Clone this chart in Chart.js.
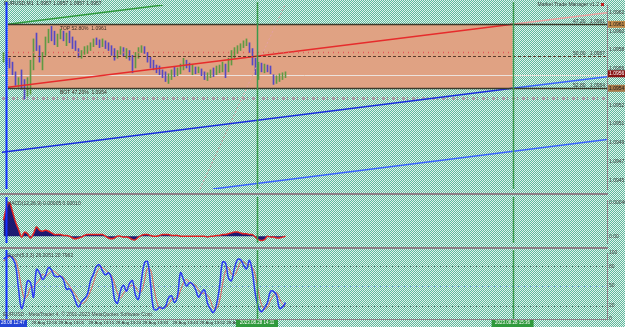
<!DOCTYPE html>
<html>
<head>
<meta charset="utf-8">
<script src="https://cdn.jsdelivr.net/npm/chart.js@4.4.0/dist/chart.umd.min.js"></script>
<style>
  html, body { margin: 0; padding: 0; }
  body {
    width: 625px; height: 327px; overflow: hidden; position: relative;
    background: repeating-conic-gradient(#5fb89c 0 25%, #e4f4ee 0 50%) 0 0 / 2px 2px;
  }
  canvas { position: absolute; left: 0; }
  .sep { position: absolute; left: 0; width: 608px; height: 2px; background: #8e7f87; }
</style>
</head>
<body>
<canvas id="mainChart" width="625" height="194" style="top:0"></canvas>
<canvas id="macdChart" width="625" height="53" style="top:195px"></canvas>
<canvas id="stochChart" width="625" height="79" style="top:248px"></canvas>
<div class="sep" style="top:193px"></div>
<div class="sep" style="top:247px"></div>
<div class="sep" style="top:319px;height:1px"></div>
<script>
const FONT = '"Liberation Sans", Arial, sans-serif';

// ---- price bars (M1), one per index ----
const barHigh = [1.09579, 1.09576, 1.09573, 1.09569, 1.09559, 1.09553, 1.09561, 1.09551, 1.09553, 1.09571,
  1.09593, 1.09599, 1.09586, 1.09579, 1.09595, 1.09603, 1.09606, 1.09601, 1.09598, 1.09603,
  1.09601, 1.09599, 1.09601, 1.09595, 1.09591, 1.09583, 1.09581, 1.09585, 1.09586, 1.09589,
  1.09593, 1.09594, 1.09592, 1.09593, 1.09591, 1.09589, 1.09586, 1.09583, 1.09581, 1.09585,
  1.09584, 1.09583, 1.09581, 1.09576, 1.09579, 1.09584, 1.09586, 1.09585, 1.09579, 1.09574,
  1.09571, 1.09566, 1.09565, 1.09561, 1.09559, 1.09557, 1.09561, 1.09564, 1.09563, 1.09567,
  1.09573, 1.09571, 1.09568, 1.09566, 1.09564, 1.09564, 1.09562, 1.09559, 1.09558, 1.09561,
  1.09563, 1.09565, 1.09566, 1.09569, 1.09567, 1.09573, 1.09581, 1.09584, 1.09586, 1.09588,
  1.09591, 1.09593, 1.09589, 1.09583, 1.09573, 1.09569, 1.09568, 1.09567, 1.09566, 1.09565,
  1.09556, 1.09555, 1.09557, 1.09558, 1.09559];
const barLow = [1.09569, 1.09566, 1.09563, 1.09556, 1.09545, 1.09543, 1.09541, 1.09531, 1.09534, 1.09536,
  1.09561, 1.09581, 1.09569, 1.09561, 1.09576, 1.09589, 1.09591, 1.09587, 1.09585, 1.09593,
  1.09591, 1.09586, 1.09589, 1.09583, 1.09581, 1.09574, 1.09573, 1.09577, 1.09578, 1.09581,
  1.09585, 1.09587, 1.09584, 1.09585, 1.09583, 1.09581, 1.09576, 1.09571, 1.09573, 1.09577,
  1.09575, 1.09573, 1.09571, 1.09558, 1.09563, 1.09573, 1.09579, 1.09578, 1.09569, 1.09563,
  1.09561, 1.09558, 1.09556, 1.09553, 1.09549, 1.09547, 1.09551, 1.09554, 1.09555, 1.09557,
  1.09561, 1.09563, 1.09559, 1.09556, 1.09557, 1.09558, 1.09555, 1.09551, 1.09550, 1.09553,
  1.09554, 1.09556, 1.09558, 1.09559, 1.09553, 1.09559, 1.09566, 1.09573, 1.09578, 1.09581,
  1.09584, 1.09586, 1.09579, 1.09566, 1.09556, 1.09551, 1.09559, 1.09558, 1.09559, 1.09557,
  1.09546, 1.09547, 1.09549, 1.09551, 1.09553];
const barClose = [1.09573, 1.09571, 1.09566, 1.09559, 1.09547, 1.09549, 1.09543, 1.09536, 1.09549, 1.09566,
  1.09589, 1.09586, 1.09571, 1.09576, 1.09591, 1.09599, 1.09596, 1.09591, 1.09595, 1.09599,
  1.09593, 1.09597, 1.09591, 1.09586, 1.09583, 1.09576, 1.09579, 1.09581, 1.09584, 1.09587,
  1.09591, 1.09589, 1.09586, 1.09591, 1.09585, 1.09584, 1.09579, 1.09575, 1.09579, 1.09581,
  1.09577, 1.09579, 1.09573, 1.09561, 1.09576, 1.09581, 1.09583, 1.09580, 1.09571, 1.09567,
  1.09563, 1.09561, 1.09558, 1.09555, 1.09551, 1.09553, 1.09559, 1.09557, 1.09561, 1.09565,
  1.09569, 1.09565, 1.09561, 1.09561, 1.09559, 1.09561, 1.09557, 1.09553, 1.09555, 1.09559,
  1.09557, 1.09561, 1.09563, 1.09565, 1.09557, 1.09571, 1.09579, 1.09581, 1.09584, 1.09586,
  1.09588, 1.09591, 1.09581, 1.09569, 1.09559, 1.09565, 1.09561, 1.09564, 1.09561, 1.09558,
  1.09551, 1.09553, 1.09555, 1.09556, 1.09557];

// ---- MACD histogram ----
const macdValues = [0.00019, 0.00034, 0.00040, 0.00029, 0.00017, 0.00008, -0.00001, 0.00005, 0.00003, -0.00002,
  0.00003, 0.00011, 0.00007, 0.00006, 0.00007, 0.00006, 0.00004, 0.00002, 0.00002, 0.00002,
  0.00001, 0.00001, 0, -0.00002, -0.00003, -0.00002, -0.00001, 0.00001, 0.00002, 0.00002,
  0.00002, 0.00002, 0.00002, 0.00002, 0, -0.00002, -0.00003, -0.00002, 0, 0,
  -0.00001, -0.00001, -0.00002, -0.00004, -0.00004, -0.00001, 0.00001, 0.00002, 0.00002, 0.00001,
  0, 0, 0.00001, 0.00002, 0.00002, 0.00002, 0.00001, 0.00001, 0.00001, 0,
  0, 0, 0, 0, 0, 0, 0, 0, -0.00001, 0,
  0, 0.00001, 0.00001, 0.00002, 0.00002, 0.00003, 0.00004, 0.00005, 0.00005, 0.00004,
  0.00003, 0.00003, 0.00002, 0.00002, -0.00001, -0.00004, -0.00005, -0.00004, 0, -0.00001,
  -0.00001, -0.00002, -0.00002, -0.00001, 0];

// ---- Stochastic ----
const stochMain = [91, 94, 96, 92, 82, 46, 16, 30, 58, 55, 33, 75, 70, 60, 66, 78, 74, 65, 64, 65,
  59, 45, 46, 39, 27, 18, 26, 31, 38, 58, 68, 80, 82, 73, 67, 70, 62, 30, 24, 43,
  51, 42, 54, 58, 36, 30, 60, 85, 87, 54, 16, 14, 18, 16, 19, 32, 35, 25, 35, 70,
  60, 50, 55, 53, 45, 33, 40, 44, 24, 15, 10, 22, 48, 86, 85, 62, 58, 77, 90, 90,
  82, 76, 89, 70, 36, 18, 11, 17, 25, 42, 42, 36, 16, 18, 25];
const stochSignal = [88, 91, 94, 94, 90, 73, 48, 31, 35, 48, 49, 54, 59, 68, 65, 68, 73, 72, 68, 65,
  63, 56, 50, 43, 37, 28, 24, 25, 32, 42, 55, 69, 77, 78, 74, 70, 66, 54, 39, 32,
  39, 45, 49, 51, 49, 41, 42, 58, 77, 75, 52, 28, 16, 16, 18, 22, 29, 31, 32, 43,
  55, 60, 55, 53, 51, 44, 39, 39, 36, 28, 16, 16, 27, 52, 73, 78, 68, 66, 75, 86,
  87, 83, 82, 78, 65, 41, 22, 15, 18, 28, 36, 40, 31, 23, 20];
const stochLevels = [80, 50, 20];

// ---- axis ticks / labels ----
const priceTicks = [1.0962, 1.09601, 1.09582, 1.09562, 1.09524, 1.09505, 1.09486, 1.09466, 1.09447];
const macdTicks = [0.0004, 0];
const stochTicks = [100, 80, 50, 20, 0];
const timeTicks = [9, 18, 28, 37, 46, 56, 65, 74];
const timeLabels = ['28 Aug 12:56', '28 Aug 13:05', '28 Aug 13:15', '28 Aug 13:24',
  '28 Aug 13:33', '28 Aug 13:43', '28 Aug 13:52', '28 Aug 14:01'];

// ---- chart objects (x in bar units, y in price) ----
const xMin = -0.5, xMax = 201.17;
const rectStart = 1.5, rectEnd = 169.7;
const rectTop = 1.09608, rectBottom = 1.09542;
const midLevel = 1.09575, fibDotLevel = 1.09579, bidLevel = 1.09556, dateRowLevel = 1.09532;
const greenLines = [84.5, 169.7];
const greenLineLabels = ['2023.08.28 14:11', '2023.08.28 15:36'];
const blueLine = 0.8;
const redTrendX = [1.5, 169.7], redTrendY = [1.09543, 1.09608];
const redExtX = [169.7, 201.17], redExtY = [1.09608, 1.09620];
const blueAX = [-0.5, 169.7], blueAY = [1.09476, 1.09542];
const blueExtX = [169.7, 201.17], blueExtY = [1.09542, 1.09554];
const blueBX = [69.8, 201.17], blueBY = [1.09438, 1.09489];
const greenTrendX = [1.5, 53.2], greenTrendY = [1.09608, 1.09628];
const pinkX = [65.5, 93.8], pinkY = [1.09438, 1.09628];

const toPts = (xs, ys) => xs.map((x, i) => ({ x, y: ys[i] }));

function seg(xs, ys, color, width, dash) {
  return {
    type: 'line', data: toPts(xs, ys), borderColor: color, borderWidth: width,
    borderDash: dash || [], pointRadius: 0, fill: false, order: 1
  };
}

function rightAxis(min, max, ticks, fmt) {
  return {
    position: 'right', min, max,
    afterFit: s => { s.width = 18; },
    afterBuildTicks: s => { s.ticks = ticks.map(v => ({ value: v })); },
    ticks: { font: { size: 5, family: FONT }, color: '#3c3c3c', padding: 2, autoSkip: false, callback: fmt },
    grid: { display: false, drawTicks: false },
    border: { color: '#8e7f87', width: 1 }
  };
}

const xAxis = { type: 'linear', min: xMin, max: xMax, offset: false, display: false };

function text(ctx, s, x, y, color, align, size) {
  ctx.font = (size || 5) + 'px ' + FONT;
  ctx.fillStyle = color;
  ctx.textAlign = align || 'left';
  ctx.textBaseline = 'middle';
  ctx.fillText(s, x, y);
}

function hline(ctx, y, x1, x2, color, width, dash) {
  ctx.save();
  ctx.strokeStyle = color; ctx.lineWidth = width; ctx.setLineDash(dash || []);
  ctx.beginPath(); ctx.moveTo(x1, y); ctx.lineTo(x2, y); ctx.stroke();
  ctx.restore();
}

// vertical time lines, shared by all three panes
const vlines = {
  id: 'vlines',
  afterDatasetsDraw(chart) {
    const { ctx, chartArea: a, scales: { x } } = chart;
    ctx.save();
    greenLines.forEach(v => {
      const px = Math.round(x.getPixelForValue(v)) + 0.5;
      ctx.strokeStyle = '#3a9a4c'; ctx.lineWidth = 1.5;
      ctx.beginPath(); ctx.moveTo(px, a.top - 3); ctx.lineTo(px, a.bottom); ctx.stroke();
    });
    const bx = Math.round(x.getPixelForValue(blueLine)) + 0.5;
    ctx.strokeStyle = '#1530ff'; ctx.lineWidth = 2;
    ctx.beginPath(); ctx.moveTo(bx, a.top - 3); ctx.lineTo(bx, a.bottom); ctx.stroke();
    ctx.restore();
  }
};

const mainExtras = {
  id: 'mainExtras',
  beforeDatasetsDraw(chart) {
    const { ctx, chartArea: a, scales: { x, y } } = chart;
    const x1 = x.getPixelForValue(rectStart), x2 = x.getPixelForValue(rectEnd);
    const y1 = y.getPixelForValue(rectTop), y2 = y.getPixelForValue(rectBottom);
    ctx.fillStyle = '#e0a283';
    ctx.fillRect(x1, y1, x2 - x1, y2 - y1);
    hline(ctx, Math.round(y.getPixelForValue(bidLevel)) + 0.5, a.left, a.right, '#ece2dc', 1);
    hline(ctx, Math.round(y.getPixelForValue(dateRowLevel)) + 0.5, a.left, a.right, '#a89aa4', 3, [3, 2, 1, 4]);
  },
  afterDatasetsDraw(chart) {
    const { ctx, chartArea: a, scales: { x, y } } = chart;
    const x1 = x.getPixelForValue(rectStart), x2 = x.getPixelForValue(rectEnd);
    const yT = Math.round(y.getPixelForValue(rectTop)) + 0.5;
    const yB = Math.round(y.getPixelForValue(rectBottom)) + 0.5;
    const yM = Math.round(y.getPixelForValue(midLevel)) + 0.5;
    const yF = Math.round(y.getPixelForValue(fibDotLevel)) + 0.5;
    hline(ctx, yF, x1, x2, '#e25a5a', 1.5, [1, 4]);
    hline(ctx, yM, x1, a.right, '#5a3a2a', 1, [3, 2]);
    hline(ctx, yT, x1, a.right, '#3b3a2a', 1.5);
    hline(ctx, yB, x1, a.right, '#3b3a2a', 1.5);

    text(ctx, 'TOP 52.80%  1.0961', x1 + 52, yT + 4, '#3a2a20');
    text(ctx, 'BOT 47.20%  1.0954', x1 + 52, yB + 4, '#3a2a20');
    text(ctx, '47.20   1.0961', a.right - 2, yT - 3, '#3a3a3a', 'right');
    text(ctx, '50.00   1.0957', a.right - 2, yM - 3, '#3a3a3a', 'right');
    text(ctx, '52.80   1.0954', a.right - 2, yB - 3, '#3a3a3a', 'right');
    text(ctx, 'EURUSD,M1  1.0957 1.0957 1.0957 1.0957', a.left + 2, 4, '#2a2a2a');
    text(ctx, 'Market Trade Manager v1.2', a.right - 8, 5, '#3a3a3a', 'right');
    ctx.fillStyle = '#c02020';
    ctx.fillRect(a.right - 6, 3, 3, 3);

    // boxed prices on the axis
    const boxes = [[rectTop, '1.0961', '#c08a4a', '#1a1a1a'], [barClose[barClose.length - 1], '1.0956', '#8a1414', '#ffffff'],
      [rectBottom, '1.0954', '#a77a4a', '#1a1a1a']];
    boxes.forEach(([v, s, bg, fg]) => {
      const py = y.getPixelForValue(v);
      ctx.fillStyle = bg;
      ctx.fillRect(a.right + 1, py - 3.5, 17, 7);
      text(ctx, s, a.right + 2, py, fg);
    });
  }
};

const priceUp = barClose.map((c, i) => i === 0 || c >= barClose[i - 1]);

new Chart(document.getElementById('mainChart'), {
  type: 'bar',
  data: {
    datasets: [
      {
        data: barHigh.map((h, i) => ({ x: i, y: [barLow[i], h] })),
        backgroundColor: priceUp.map(u => u ? '#5f9a44' : '#5548c4'),
        borderWidth: 0, barThickness: 1, order: 2
      },
      seg(redTrendX, redTrendY, '#e62c2c', 1.5),
      seg(redExtX, redExtY, '#eea0a0', 1.5),
      seg(blueAX, blueAY, '#1a2ede', 1.5),
      seg(blueExtX, blueExtY, '#3b64ff', 1.5),
      seg(blueBX, blueBY, '#3b64ff', 1.5),
      seg(greenTrendX, greenTrendY, '#2f9a3c', 1.5),
      seg(pinkX, pinkY, '#e4a0a4', 1, [2, 2])
    ]
  },
  options: {
    responsive: false, animation: false, events: [],
    layout: { padding: { left: 2, right: 0, top: 3, bottom: 1 } },
    plugins: { legend: { display: false }, tooltip: { enabled: false } },
    scales: {
      x: xAxis,
      y: rightAxis(1.09438, 1.09628, priceTicks, v => v.toFixed(4))
    }
  },
  plugins: [mainExtras, vlines]
});

new Chart(document.getElementById('macdChart'), {
  type: 'line',
  data: {
    datasets: [{
      data: macdValues.map((v, i) => ({ x: i, y: v })),
      borderColor: '#e02424', borderWidth: 1.5, backgroundColor: '#1d1a72',
      fill: 'origin', pointRadius: 0, tension: 0.3
    }]
  },
  options: {
    responsive: false, animation: false, events: [],
    layout: { padding: { left: 2, right: 0, top: 1, bottom: 1 } },
    plugins: { legend: { display: false }, tooltip: { enabled: false } },
    scales: {
      x: xAxis,
      y: rightAxis(-0.00008, 0.00043, macdTicks, v => v === 0 ? '0.00' : v.toFixed(5))
    }
  },
  plugins: [vlines, {
    id: 'macdTitle',
    afterDraw(chart) {
      const a = chart.chartArea;
      text(chart.ctx, 'MACD(12,26,9) 0.00005 0.00010', a.left + 5, a.top + 4, '#3a3a3a');
    }
  }]
});

new Chart(document.getElementById('stochChart'), {
  type: 'line',
  data: {
    datasets: [
      {
        data: stochMain.map((v, i) => ({ x: i, y: v })),
        borderColor: '#2b3cf2', borderWidth: 1.5, pointRadius: 0, tension: 0.4
      },
      {
        data: stochSignal.map((v, i) => ({ x: i, y: v })),
        borderColor: '#e06060', borderWidth: 1, pointRadius: 0, tension: 0.4
      }
    ]
  },
  options: {
    responsive: false, animation: false, events: [],
    layout: { padding: { left: 2, right: 0, top: 1, bottom: 8 } },
    plugins: { legend: { display: false }, tooltip: { enabled: false } },
    scales: {
      x: xAxis,
      y: rightAxis(0, 100, stochTicks, v => String(v))
    }
  },
  plugins: [{
    id: 'stochExtras',
    beforeDatasetsDraw(chart) {
      const { ctx, chartArea: a, scales: { y } } = chart;
      stochLevels.forEach(l => {
        hline(ctx, Math.round(y.getPixelForValue(l)) + 0.5, a.left, a.right,
          l === 50 ? '#7aa4ea' : '#55706a', 1, [1, 2]);
      });
    },
    afterDraw(chart) {
      const { ctx, chartArea: a, scales: { x } } = chart;
      text(ctx, 'Stoch(5,3,3) 26.2051 20.7962', a.left + 5, a.top + 3, '#3a3a3a');
      text(ctx, 'EURUSD - MetaTrader 4, \u00a9 2001-2023 MetaQuotes Software Corp.', a.left + 1, a.bottom - 4, '#4a4a4a');
      const ty = a.bottom + 4;
      ctx.fillStyle = '#2244d6';
      ctx.fillRect(0, a.bottom + 0.5, 27, 7.5);
      text(ctx, '28.08 12:47', 1, ty, '#ffffff', 'left', 4.5);
      timeTicks.forEach((t, i) => {
        text(ctx, timeLabels[i], x.getPixelForValue(t) + 1, ty, '#2a2a2a', 'left', 4.3);
      });
      greenLines.forEach((v, i) => {
        const px = x.getPixelForValue(v);
        ctx.fillStyle = '#2f9a3c';
        ctx.fillRect(px - 21, a.bottom + 0.5, 42, 7.5);
        text(ctx, greenLineLabels[i], px, ty, '#ffffff', 'center', 4.5);
      });
    }
  }, vlines]
});
</script>
</body>
</html>
